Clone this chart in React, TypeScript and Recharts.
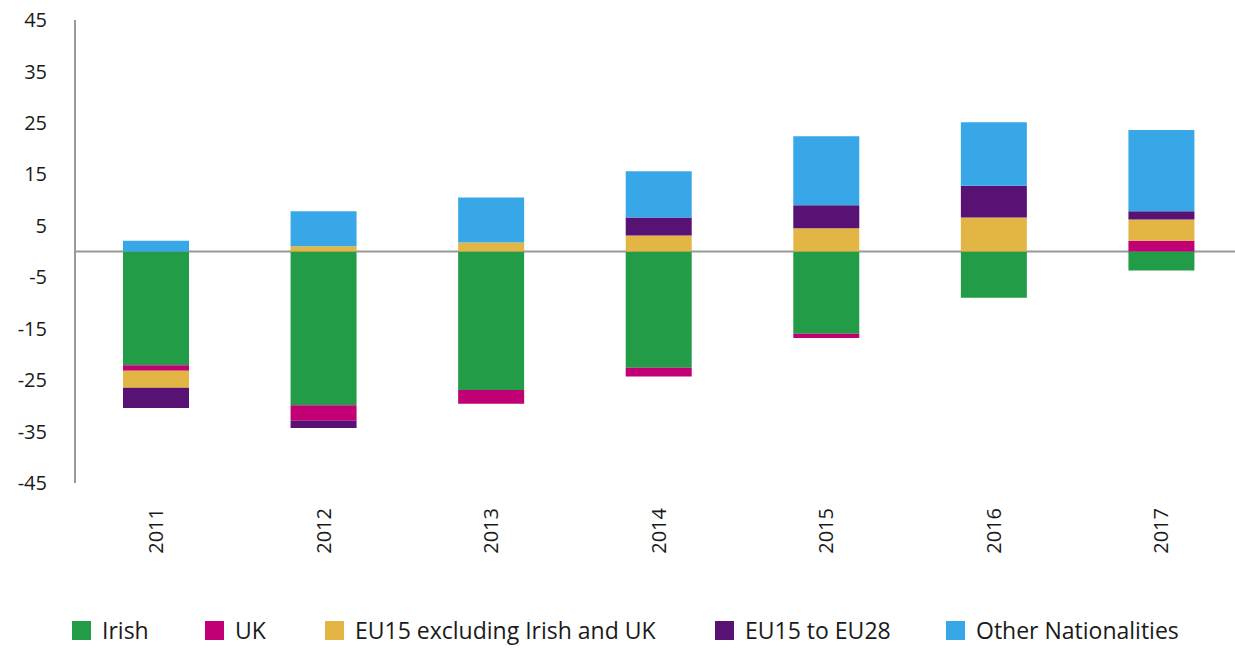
import React from "react";
import { BarChart, Bar, XAxis, YAxis, CartesianGrid, Legend } from "recharts";

const years = ["2011", "2012", "2013", "2014", "2015", "2016", "2017"];
const irish = [-22.1, -29.9, -26.9, -22.6, -16.0, -9.0, -3.7];
const uk = [-1.1, -3.0, -2.7, -1.7, -0.8, 0, 2.1];
const eu15 = [-3.3, 1.0, 1.75, 3.1, 4.5, 6.6, 4.1];
const eu28 = [-3.9, -1.4, 0, 3.5, 4.5, 6.2, 1.6];
const other = [2.1, 6.8, 8.75, 9.0, 13.4, 12.3, 15.8];
const yTicks = [-45, -35, -25, -15, -5, 5, 15, 25, 35, 45];

const series = [
  { key: "irish", name: "Irish", color: "#239C48" },
  { key: "uk", name: "UK", color: "#C20075" },
  { key: "eu15", name: "EU15 excluding Irish and UK", color: "#E3B544" },
  { key: "eu28", name: "EU15 to EU28", color: "#581273" },
  { key: "other", name: "Other Nationalities", color: "#38A7E8" },
];

// legend slot widths, so each swatch lands where it sits in the original
const legendSlots = [133, 120, 390, 231, 270];

const data = years.map((year, i) => ({
  year,
  irish: irish[i],
  uk: uk[i],
  eu15: eu15[i],
  eu28: eu28[i],
  other: other[i],
}));

const FONT = "'Open Sans', Lato, sans-serif";

const YearTick = (props: any) => {
  const { x, y, payload } = props;
  return (
    <g transform={`translate(${x},${y + 17}) rotate(-90)`}>
      <text textAnchor="end" dy="0.36em" fill="#1a1a1a" fontSize={20} fontFamily={FONT}>
        {payload.value}
      </text>
    </g>
  );
};

const LegendContent = () => (
  <div
    style={{
      display: "flex",
      alignItems: "center",
      height: 40,
      paddingLeft: 72,
      fontFamily: FONT,
      fontSize: 23,
      color: "#1a1a1a",
      whiteSpace: "nowrap",
    }}
  >
    {series.map((s, i) => (
      <div key={s.key} style={{ display: "flex", alignItems: "center", width: legendSlots[i], flexShrink: 0 }}>
        <span style={{ width: 19, height: 19, background: s.color, marginRight: 11, display: "inline-block", flexShrink: 0 }} />
        <span>{s.name}</span>
      </div>
    ))}
  </div>
);

export default function App() {
  return (
    <div style={{ position: "absolute", left: 0, top: 0, width: 1235, height: 651, overflow: "hidden", background: "#fff" }}>
      <BarChart
        width={1245}
        height={651}
        data={data}
        stackOffset="sign"
        barSize={66}
        margin={{ top: 20, right: 0, bottom: 1, left: 0 }}
      >
        <CartesianGrid vertical={false} horizontalValues={[0]} stroke="#999" strokeWidth={2} />
        <XAxis
          dataKey="year"
          axisLine={false}
          tickLine={false}
          interval={0}
          height={127}
          padding={{ left: -3, right: 0 }}
          tick={<YearTick />}
        />
        <YAxis
          type="number"
          domain={[-45, 45]}
          ticks={yTicks}
          interval={0}
          width={75}
          axisLine={{ stroke: "#9a9a9a", strokeWidth: 2 }}
          tickLine={false}
          tickSize={0}
          tickMargin={28}
          tick={{ fill: "#1a1a1a", fontSize: 20, fontFamily: FONT }}
        />
        <Legend verticalAlign="bottom" content={<LegendContent />} />
        {series.map((s) => (
          <Bar key={s.key} dataKey={s.key} name={s.name} stackId="a" fill={s.color} isAnimationActive={false} />
        ))}
      </BarChart>
    </div>
  );
}
